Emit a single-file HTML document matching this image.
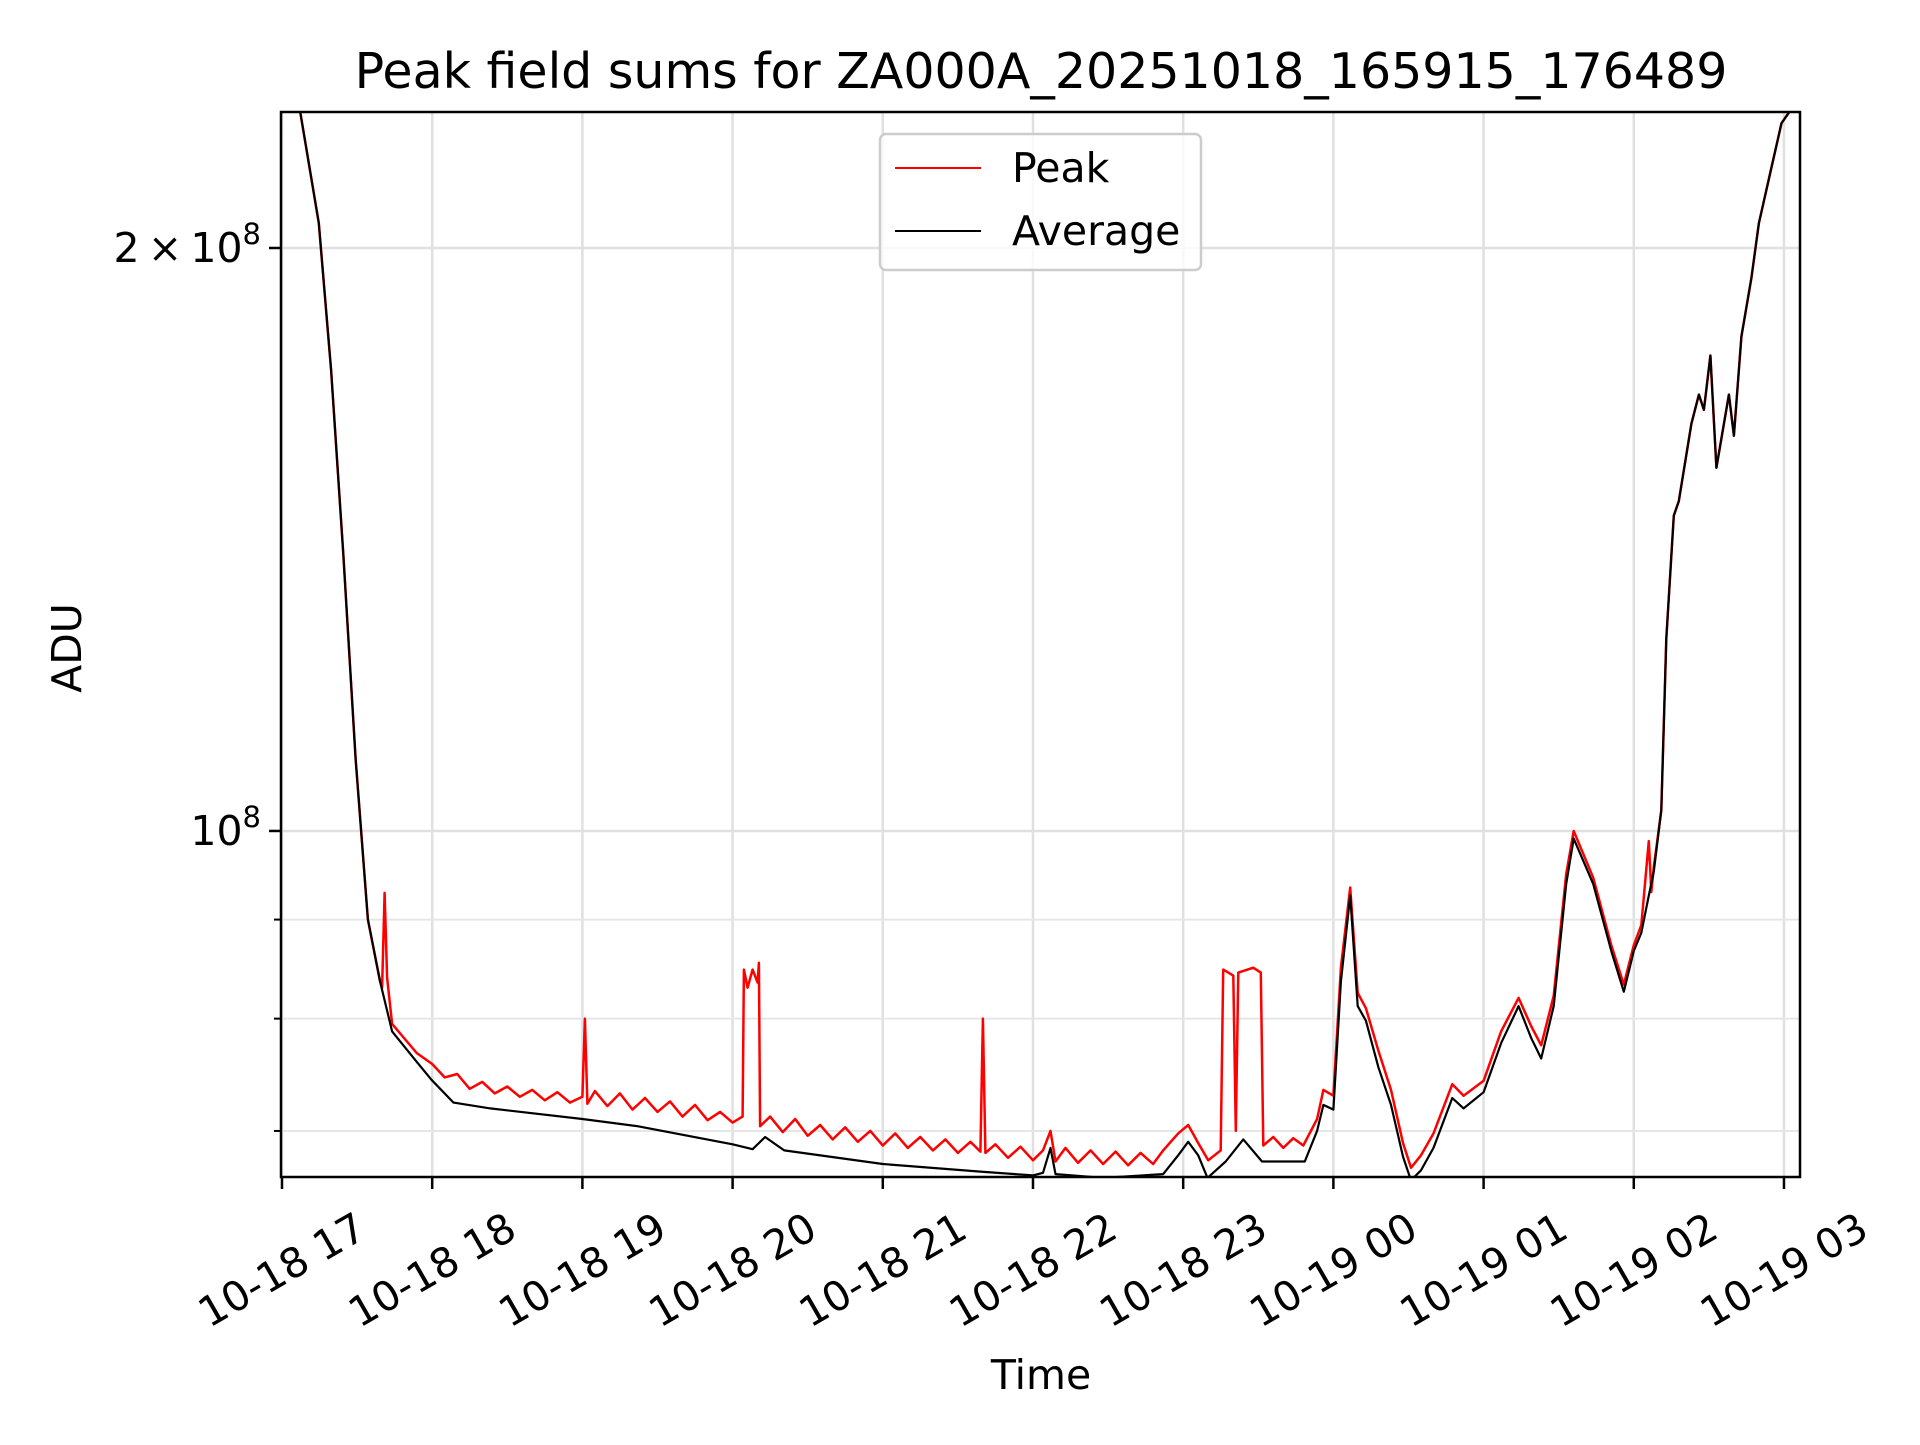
<!DOCTYPE html>
<html><head><meta charset="utf-8"><style>
html,body{margin:0;padding:0;background:#fff}
svg text{font-family:"DejaVu Sans","Liberation Sans",sans-serif;fill:#000}
</style></head><body>
<svg id="chart" width="1920" height="1440" viewBox="0 0 1920 1440" xmlns="http://www.w3.org/2000/svg">
<rect width="1920" height="1440" fill="#fff"/>
<text x="1041" y="88" font-size="49" text-anchor="middle">Peak field sums for ZA000A_20251018_165915_176489</text>
<g id="grid"></g>
<g id="series"></g>
<rect x="281" y="112" width="1519" height="1065" fill="none" stroke="#000" stroke-width="2.5"/>
<g id="xticks"></g>
<g id="yticks"></g>
<text x="1041" y="1389" font-size="41" text-anchor="middle">Time</text>
<text transform="translate(81,648) rotate(-90)" font-size="41" text-anchor="middle">ADU</text>
<g>
<rect x="880" y="134" width="321" height="136" rx="6" fill="#fff" fill-opacity="0.8" stroke="#ccc" stroke-width="2.5"/>
<line x1="895" y1="168" x2="981" y2="168" stroke="#f00" stroke-width="2"/>
<text x="1012" y="182" font-size="41">Peak</text>
<line x1="895" y1="231" x2="981" y2="231" stroke="#000" stroke-width="2"/>
<text x="1012" y="245" font-size="41">Average</text>
</g>
</svg>
<script>
const avgTimes=[-1,7.3,14.7,19.6,24.5,29.4,34.3,39.2,44,53.8,59.7,68.5,83.2,120,142,180,188,193,200.6,240,279,300,304,307,309,328,352,358,362,366,369.7,377,384,391.5,408.6,413.5,416,420,423,426.7,429.7,433,438,443,447.8,451,455,460,467.5,472,480,487,494,499,503,508,513,516,523.8,531,536,540,543,546,548,551,553,556,558,563,566,568,570.6,573,578,580,583,587,590,594.6,599,603,607];
const avgVals=[240,235,206,173,139,109,90,83.6,78.8,76,74.4,72.4,71.9,71,70.4,68.9,68.5,69.5,68.4,67.3,66.7,66.4,66.6,68.6,66.5,66.2,66.5,68,69.1,68,66.2,67.5,69.3,67.5,67.5,70,72.2,71.8,83.6,92.6,81.2,79.8,75.5,72.2,67.9,66,66.8,68.6,72.8,71.9,73.3,77.7,81.2,78.2,76.3,81.2,93.9,99.1,93.9,86.7,82.6,86.7,88.6,92.6,95.3,102.5,125.7,145.5,148,162.3,168,165,176,154,168,160,180,193,206,219,232,236,240];
const peakTimes=[-1,7.3,14.7,19.6,24.5,29.4,34.3,39.2,40,41,42,44,53.8,60,65,70,75,80,85,90,95,100,105,110,115,120,121,122,125,130,135,140,145,150,155,160,165,170,175,180,184,184.5,186,188,190,190.5,191,195,200,205,210,215,220,225,230,235,240,245,250,255,260,265,270,275,279,280,281,285,290,295,300,304,307,309,313,318,323,328,333,338,343,348,352,358,362,366,370,375,376,380,381,382,388,391,392,396,400,404,408,413.5,416,420,423,426.7,429.7,433,438,443,447.8,451,455,460,467.5,472,480,487,494,499,503,508,513,516,523.8,531,536,540,543,546,547,548,551,553,556,558,563,566,568,570.6,573,578,580,583,587,590,594.6,599,603,607];
const peakVals=[240,235,206,173,139,109,90,83.6,83,92.9,84,79.5,76.8,75.8,74.6,74.9,73.6,74.2,73.2,73.8,72.9,73.5,72.6,73.3,72.4,72.9,80,72.3,73.4,72.1,73.2,71.8,72.8,71.6,72.5,71.2,72.2,70.9,71.6,70.7,71.2,84.8,83,84.8,83.5,85.5,70.4,71.2,69.9,71,69.6,70.5,69.3,70.3,69.1,70,68.8,69.8,68.6,69.5,68.4,69.3,68.2,69.1,68.3,80,68.2,68.9,67.8,68.7,67.6,68.4,70,67.5,68.6,67.4,68.4,67.3,68.3,67.2,68.2,67.3,68.4,69.8,70.5,69,67.6,68.4,84.8,84.2,70,84.5,85,84.5,68.8,69.5,68.6,69.4,68.8,71,73.5,73,85,93.5,82.5,81,77,73.5,69,67,68,69.8,74,73,74.3,78.8,82,79.3,77.5,82.2,95,100,94.6,87.3,83.3,87.3,89.4,98.8,93,95.8,102.5,125.7,145.5,148,162.3,168,165,176,154,168,160,180,193,206,219,232,236,240];
const xTickHours=[0,1,2,3,4,5,6,7,8,9,10];
const xTickLabels=["10-18 17","10-18 18","10-18 19","10-18 20","10-18 21","10-18 22","10-18 23","10-19 00","10-19 01","10-19 02","10-19 03"];
const yMinorTicks=[70,80,90];
const NS="http://www.w3.org/2000/svg";
const L=281,R=1800,T=112,B=1177;
const xMin=-0.4,xMax=606.4;
const yMin=66.27,yMax=235.1;
function xs(m){return L+(m-xMin)/(xMax-xMin)*(R-L);}
function ys(v){return B-(Math.log(v)-Math.log(yMin))/(Math.log(yMax)-Math.log(yMin))*(B-T);}
function mk(tag,attrs,parent){const e=document.createElementNS(NS,tag);for(const k in attrs)e.setAttribute(k,attrs[k]);parent.appendChild(e);return e;}
const grid=document.getElementById('grid'),xt=document.getElementById('xticks'),yt=document.getElementById('yticks'),ser=document.getElementById('series');
xTickHours.forEach((h,i)=>{const x=xs(h*60);
 const g=mk('line',{x1:x,x2:x,y1:T,y2:B,stroke:'#e0e0e0','stroke-width':2.5},grid);
 
 
 const t=mk('line',{x1:x,x2:x,y1:B,y2:B+12,stroke:'#000','stroke-width':2.5},xt);
 
 
 const tx=mk('text',{transform:`translate(${x},${B+93}) rotate(-30)`,'font-size':41,'text-anchor':'middle','dominant-baseline':'central'},xt);
 tx.textContent=xTickLabels[i];
 
 
});
[100,200].forEach(v=>{const y=ys(v);
 const g=mk('line',{x1:L,x2:R,y1:y,y2:y,stroke:'#e0e0e0','stroke-width':2.5},grid);
 
 
 const t=mk('line',{x1:L-12,x2:L,y1:y,y2:y,stroke:'#000','stroke-width':2.5},yt);
 
 
});
yMinorTicks.forEach(v=>{const y=ys(v);
 const g=mk('line',{x1:L,x2:R,y1:y,y2:y,stroke:'#e6e6e6','stroke-width':2},grid);
 
 
 const t=mk('line',{x1:L-7,x2:L,y1:y,y2:y,stroke:'#000','stroke-width':2},yt);
 
 
});
let yl=mk('text',{x:L-20,y:ys(200)+14,'font-size':41,'text-anchor':'end'},yt);
yl.innerHTML='2\u2009\u00d7\u200910<tspan font-size="29" dy="-18">8</tspan>';


yl=mk('text',{x:L-20,y:ys(100)+14,'font-size':41,'text-anchor':'end'},yt);
yl.innerHTML='10<tspan font-size="29" dy="-18">8</tspan>';


const cp=mk('clipPath',{id:'clip'},ser);
mk('rect',{x:L,y:T,width:R-L,height:B-T},cp);
function path(ts,vs){return ts.map((t,i)=>(i?'L':'M')+xs(t).toFixed(1)+','+ys(vs[i]).toFixed(1)).join('');}
const pp=mk('path',{d:path(peakTimes,peakVals),fill:'none',stroke:'#f00','stroke-width':2.5,'clip-path':'url(#clip)','stroke-linejoin':'round'},ser);


const ap=mk('path',{d:path(avgTimes,avgVals),fill:'none',stroke:'#000','stroke-width':2.2,'clip-path':'url(#clip)','stroke-linejoin':'round'},ser);


</script>
</body></html>
